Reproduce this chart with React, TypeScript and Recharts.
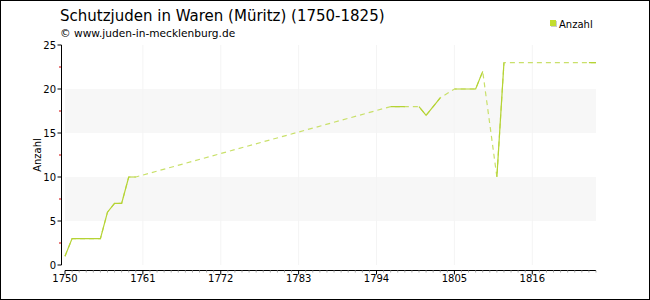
import React from "react";
import {
  LineChart,
  Line,
  XAxis,
  YAxis,
  ReferenceArea,
  ReferenceLine,
} from "recharts";

// known counts (years without a value are gaps, bridged by the dashed line)
const years = [
  1750, 1751, 1752, 1753, 1754, 1755, 1756, 1757, 1758, 1759, 1760, 1796,
  1797, 1798, 1800, 1801, 1802, 1803, 1805, 1806, 1807, 1808, 1809, 1811,
  1812, 1824, 1825,
];
const anzahl = [
  1, 3, 3, 3, 3, 3, 6, 7, 7, 10, 10, 18, 18, 18, 18, 17, 18, 19, 20, 20, 20,
  20, 22, 10, 23, 23, 23,
];

const firstYear = 1750;
const lastYear = 1825;
const xTicks = [1750, 1761, 1772, 1783, 1794, 1805, 1816];
const yTicks = [0, 5, 10, 15, 20, 25];
const bands = [
  [5, 10],
  [15, 20],
];

const title = "Schutzjuden in Waren (Müritz) (1750-1825)";
const subtitle = "© www.juden-in-mecklenburg.de";
const seriesName = "Anzahl";

const LINE = "#b5d334";
const DASH = "#c9e06a";
const FONT = "'DejaVu Sans', Verdana, sans-serif";

const W = 650;
const H = 300;
const margin = { top: 45, right: 54, bottom: 0, left: 0 };
const Y_W = 65;
const X_H = 35;
const PLOT_W = W - margin.left - margin.right - Y_W;
const PLOT_H = H - margin.top - margin.bottom - X_H;

const rows: { year: number; value: number | null }[] = [];
for (let y = firstYear; y <= lastYear; y++) {
  const i = years.indexOf(y);
  rows.push({ year: y, value: i >= 0 ? anzahl[i] : null });
}

const allYears = rows.map((r) => r.year);
const yAll: number[] = [];
yTicks.forEach((t, i) => {
  yAll.push(t);
  if (i < yTicks.length - 1) yAll.push((t + yTicks[i + 1]) / 2);
});

function XTick(props: any) {
  const { x, y, payload } = props;
  const v = payload.value as number;
  const major = xTicks.includes(v);
  const ay = y + 5.5;
  return (
    <g>
      {v === firstYear && (
        <line x1={x} x2={x + PLOT_W} y1={ay} y2={ay} stroke="#000" />
      )}
      <line
        x1={x}
        x2={x}
        y1={ay}
        y2={ay + (major ? 4 : 2)}
        stroke={major ? "#000" : "#aaa"}
      />
      {major && (
        <text
          x={x}
          y={y + 17}
          textAnchor="middle"
          fontSize={10}
          fontFamily={FONT}
          fill="#000"
        >
          {v}
        </text>
      )}
    </g>
  );
}

function YTick(props: any) {
  const { x, y, payload } = props;
  const v = payload.value as number;
  const major = yTicks.includes(v);
  const ax = x - 3.5;
  return (
    <g>
      {v === yTicks[yTicks.length - 1] && (
        <line x1={ax} x2={ax} y1={y} y2={y + PLOT_H} stroke="#000" />
      )}
      <line
        x1={ax - (major ? 4 : 2.5)}
        x2={ax}
        y1={y}
        y2={y}
        stroke={major ? "#000" : "#d00000"}
      />
      {major && (
        <text
          x={ax - 5.5}
          y={y + 3.6}
          textAnchor="end"
          fontSize={10}
          fontFamily={FONT}
          fill="#000"
        >
          {v}
        </text>
      )}
    </g>
  );
}

export default function App() {
  return (
    <div style={{ position: "absolute", left: 0, top: 0, width: W, height: H }}>
      <LineChart width={W} height={H} data={rows} margin={margin}>
        {bands.map(([a, b]) => (
          <ReferenceArea
            key={a}
            y1={a}
            y2={b}
            fill="#f7f7f7"
            fillOpacity={1}
            stroke="none"
          />
        ))}
        {xTicks.slice(1).map((t) => (
          <ReferenceLine key={t} x={t} stroke="#f4f4f4" />
        ))}
        <XAxis
          dataKey="year"
          type="number"
          domain={[firstYear, lastYear]}
          ticks={allYears}
          interval={0}
          height={X_H}
          axisLine={false}
          tickLine={false}
          tickSize={0}
          tickMargin={0}
          tick={(p: any) => <XTick {...p} />}
        />
        <YAxis
          type="number"
          domain={[0, 25]}
          ticks={yAll}
          interval={0}
          width={Y_W}
          axisLine={false}
          tickLine={false}
          tickSize={0}
          tickMargin={0}
          tick={(p: any) => <YTick {...p} />}
          label={{
            content: () => (
              <text
                x={41}
                y={margin.top + PLOT_H / 2}
                transform={`rotate(-90 41 ${margin.top + PLOT_H / 2})`}
                textAnchor="middle"
                fontSize={10}
                fontFamily={FONT}
                fill="#000"
              >
                {seriesName}
              </text>
            ),
          }}
        />
        <Line
          dataKey="value"
          connectNulls
          stroke={DASH}
          strokeWidth={1.2}
          strokeDasharray="5 4"
          dot={false}
          activeDot={false}
          isAnimationActive={false}
        />
        <Line
          dataKey="value"
          name={seriesName}
          stroke={LINE}
          strokeWidth={1.2}
          dot={false}
          activeDot={false}
          isAnimationActive={false}
        />
      </LineChart>
      <svg
        width={W}
        height={H}
        style={{ position: "absolute", left: 0, top: 0, pointerEvents: "none" }}
      >
        <text x={60} y={21} fontSize={15} fontFamily={FONT} fill="#000">
          {title}
        </text>
        <text x={60} y={37} fontSize={10.6} fontFamily={FONT} fill="#000">
          {subtitle}
        </text>
        <rect x={551} y={21} width={6} height={6} fill="#cccccc" />
        <rect x={550} y={20} width={6} height={6} fill="#c3dd2e" />
        <text x={559} y={28} fontSize={10} fontFamily={FONT} fill="#000">
          {seriesName}
        </text>
        <rect
          x={0.5}
          y={0.5}
          width={W - 1}
          height={H - 1}
          fill="none"
          stroke="#000"
        />
      </svg>
    </div>
  );
}
